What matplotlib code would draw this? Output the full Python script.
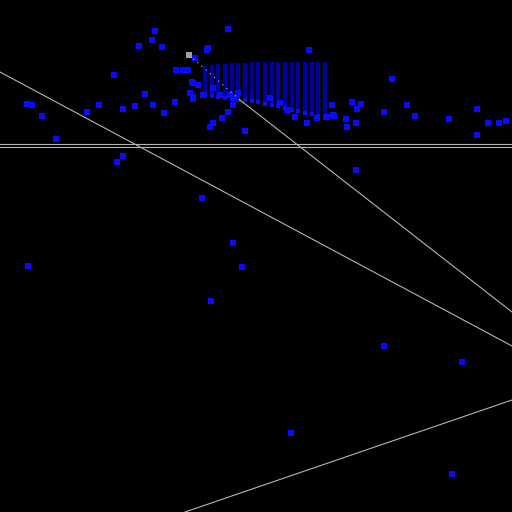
import matplotlib

matplotlib.use("Agg")
import matplotlib.pyplot as plt

# scatter points, in pixel-like units (y grows downwards)
point_x = [
    155, 228, 139, 152, 162, 208, 309, 114, 392,
    27, 32, 42, 56, 87, 99, 123, 135, 145, 153, 164, 175, 176, 183, 188,
    190, 193, 193, 185, 195, 207, 192, 198, 193, 203, 213, 220, 230,
    210, 213, 222, 228, 233, 237, 238, 245,
    270, 280, 287, 295, 307, 317, 327, 333,
    332, 334, 352, 361, 357, 346, 347, 356, 384, 407, 415, 449, 477, 477,
    488, 499, 506, 356, 123, 117, 202, 233, 242, 28, 211, 384, 462, 291, 452,
]
point_y = [
    31, 29, 46, 40, 47, 48, 50, 75, 79,
    104, 105, 116, 139, 112, 105, 109, 106, 94, 105, 113, 102, 70, 70, 70,
    93, 99, 83, 70, 58, 50, 82, 85, 97, 95, 88, 95, 95,
    127, 123, 118, 112, 105, 98, 93, 131,
    98, 103, 110, 117, 123, 118, 117, 115,
    105, 116, 102, 104, 109, 119, 127, 123, 112, 105, 116, 119, 109, 135,
    123, 123, 121, 170, 156, 162, 198, 243, 267, 266, 301, 346, 362, 433, 474,
]

# vertical streaks in the dense cluster
streak_x = [205, 212, 218, 225, 232, 238, 245, 252, 258, 265,
            272, 278, 285, 292, 298, 305, 312, 318, 325]
streak_top = [66, 65, 64, 64, 63, 63, 63, 62, 62, 62,
              62, 62, 62, 62, 62, 62, 62, 62, 62]
streak_bottom = [95, 96, 97, 98, 99, 100, 100, 101, 102, 104,
                 105, 106, 108, 110, 111, 113, 114, 116, 118]

# straight lines (x0, y0, x1, y1)
line_x0 = [0, 240, 185, 0, 0]
line_y0 = [72, 100, 512, 143.5, 146.5]
line_x1 = [512, 512, 512, 512, 512]
line_y1 = [346, 312, 400, 143.5, 146.5]

# dotted trail from the grey marker
trail_x = [189, 240]
trail_y = [55, 100]
grey_x = [189]
grey_y = [55]

fig = plt.figure(figsize=(5.12, 5.12), dpi=100, facecolor="black")
ax = fig.add_axes([0, 0, 1, 1])
ax.set_facecolor("black")
ax.set_xlim(0, 512)
ax.set_ylim(512, 0)
ax.axis("off")

ax.vlines(streak_x, streak_top, streak_bottom, colors="#0000f0",
          linewidth=3.0, alpha=0.65, zorder=2)
ax.scatter(streak_x, streak_bottom, marker="s", s=12, color="#1010ff",
           linewidths=0, alpha=0.9, zorder=3)

for x0, y0, x1, y1 in zip(line_x0, line_y0, line_x1, line_y1):
    ax.plot([x0, x1], [y0, y1], color="#b4b4b4", linewidth=0.8, zorder=4)

ax.plot(trail_x, trail_y, color="#c8c8c8", linewidth=0.8,
        linestyle=(0, (1, 4)), zorder=4)

ax.scatter(point_x, point_y, marker="s", s=13, color="#0a0aff",
           linewidths=0, zorder=3)
ax.scatter(grey_x, grey_y, marker="s", s=20, color="#a0a0a0",
           linewidths=0, zorder=5)

fig.savefig("out.png", dpi=100, facecolor="black")
